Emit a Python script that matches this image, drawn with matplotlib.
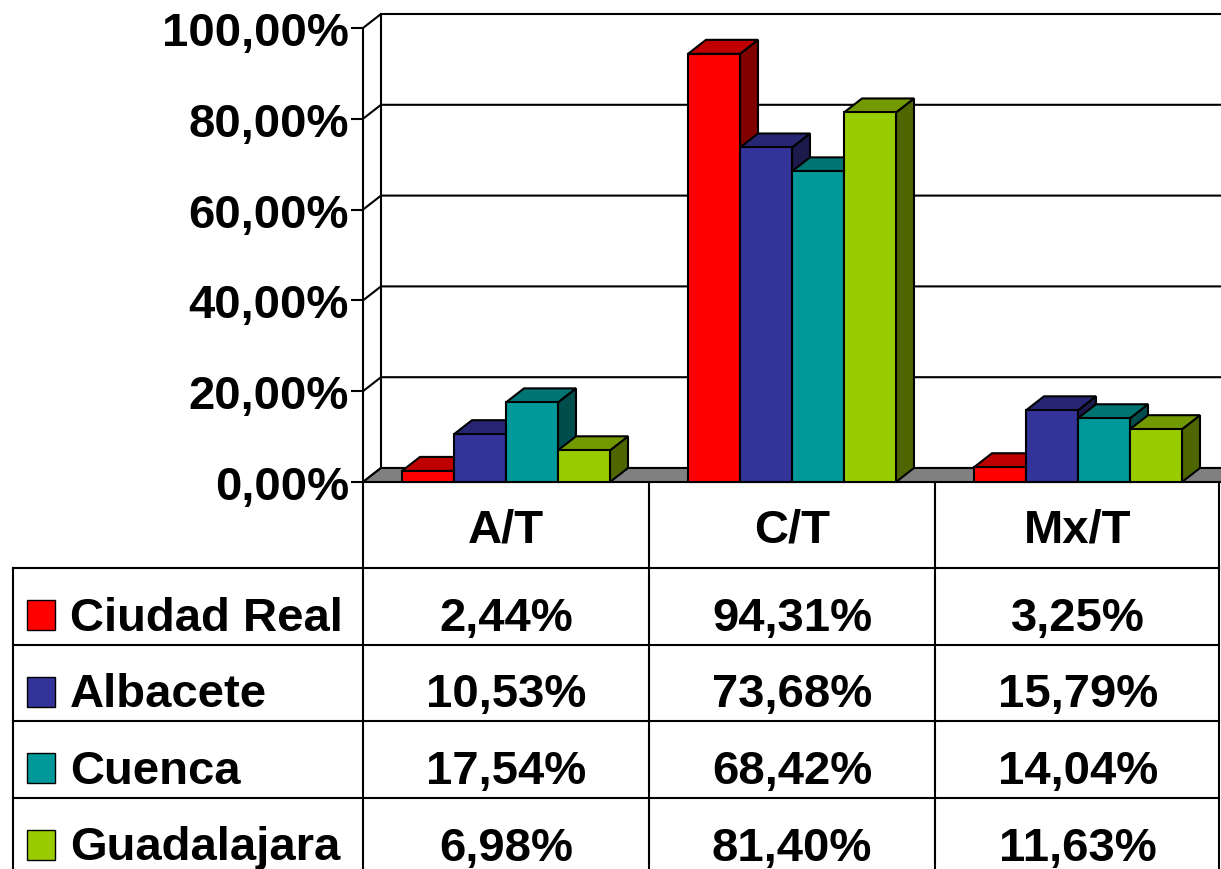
import matplotlib
matplotlib.use("Agg")
import matplotlib.pyplot as plt
from matplotlib.patches import Polygon, Rectangle

# ---------------- data ----------------
categories = ["A/T", "C/T", "Mx/T"]
series = ["Ciudad Real", "Albacete", "Cuenca", "Guadalajara"]
ciudad_real = [2.44, 94.31, 3.25]
albacete = [10.53, 73.68, 15.79]
cuenca = [17.54, 68.42, 14.04]
guadalajara = [6.98, 81.40, 11.63]
values = [ciudad_real, albacete, cuenca, guadalajara]
yticks = [0, 20, 40, 60, 80, 100]

front_colors = ["#FF0000", "#333399", "#009999", "#99CC00"]
top_colors = ["#C00000", "#262673", "#007373", "#739900"]
side_colors = ["#800000", "#1A1A4D", "#004D4D", "#4D6600"]


def pct(v):
    return f"{v:.2f}".replace(".", ",") + "%"


# ---------------- figure ----------------
plt.rcParams['font.family'] = ['Liberation Sans', 'DejaVu Sans']
W, H = 1221, 870
fig = plt.figure(figsize=(W / 100, H / 100), dpi=100)
FS = 34
LW = 1.5

# plot area (front plane)
AX_L, AX_R, AX_T, AX_B = 363, 1221, 29, 483
ax = fig.add_axes([AX_L / W, (H - AX_B) / H, (AX_R - AX_L) / W, (AX_B - AX_T) / H])
ncat = len(categories)
ax.set_xlim(0, ncat)
ax.set_ylim(0, 100)
for s in ['top', 'right', 'bottom']:
    ax.spines[s].set_visible(False)
ax.spines['left'].set_linewidth(LW)
ax.set_xticks([])
ax.set_yticks(yticks)
ax.set_yticklabels([pct(v) for v in yticks], fontsize=FS, fontweight='bold')
ax.tick_params(axis='y', length=9, width=LW, pad=1)
ax.patch.set_visible(False)

# depth offset (18 px right, 14 px up) expressed in data units
dx = 18 / (AX_R - AX_L) * ncat
dy = 14 / (AX_B - AX_T) * 100

# walls: gridlines on side wall and back wall
for v in yticks:
    ax.plot([0, dx, ncat + dx], [v, v + dy, v + dy], color='black', lw=LW,
            clip_on=False, zorder=1, solid_joinstyle='miter')
ax.plot([dx, dx], [dy, 100 + dy], color='black', lw=LW, clip_on=False, zorder=1)

# floor
floor = Polygon([(0, 0), (ncat, 0), (ncat + dx, dy), (dx, dy)], closed=True,
                facecolor='#808080', edgecolor='black', lw=LW, clip_on=False, zorder=2)
ax.add_patch(floor)

# bars
nser = len(series)
gap = 1.5
unit = 1.0 / (nser + gap)
z = 3
for c in range(ncat):
    for i in range(nser):
        h = values[i][c]
        x0 = c + (gap / 2 + i) * unit
        w = unit
        side = Polygon([(x0 + w, 0), (x0 + w + dx, dy), (x0 + w + dx, h + dy), (x0 + w, h)],
                       closed=True, facecolor=side_colors[i], edgecolor='black', lw=LW,
                       clip_on=False, zorder=z, joinstyle='miter')
        top = Polygon([(x0, h), (x0 + w, h), (x0 + w + dx, h + dy), (x0 + dx, h + dy)],
                      closed=True, facecolor=top_colors[i], edgecolor='black', lw=LW,
                      clip_on=False, zorder=z, joinstyle='miter')
        front = Rectangle((x0, 0), w, h, facecolor=front_colors[i], edgecolor='black',
                          lw=LW, clip_on=False, zorder=z + 0.5, joinstyle='miter')
        ax.add_patch(side)
        ax.add_patch(top)
        ax.add_patch(front)
        z += 1

# ---------------- data table ----------------
TAB_L = 13
ROW_H = 76.5
HEAD_H = 86
cat_px = (AX_R - AX_L) / ncat
tab = fig.add_axes([TAB_L / W, 0, (W - TAB_L) / W, (H - AX_B) / H])
tab.set_xlim((TAB_L - AX_L) / cat_px, ncat)
tab_h_units = (H - AX_B) / ROW_H
tab.set_ylim(tab_h_units, 0)
tab.axis('off')


def tx(px):
    return (px - AX_L) / cat_px


def ty(px):
    return px / ROW_H


head = ty(HEAD_H)
bottom_u = head + nser + 1
left_u = tx(TAB_L)
right_u = ncat - tx(AX_L + 2) + tx(AX_L)
line_kw = dict(color='black', lw=LW, clip_on=False, solid_capstyle='projecting')

# horizontal lines
for k in range(nser + 1):
    tab.plot([left_u, right_u], [head + k, head + k], **line_kw)
# vertical lines
tab.plot([left_u, left_u], [head, bottom_u], **line_kw)
for c in range(ncat):
    tab.plot([c, c], [0, bottom_u], **line_kw)
tab.plot([right_u, right_u], [0, bottom_u], **line_kw)

cap_half = 0.716 * FS * 100 / 72 / 2  # half cap height in px

# header labels
for c, cat in enumerate(categories):
    tab.text(c + 0.5, ty(HEAD_H / 2 + cap_half), cat, ha='center', va='baseline',
             fontsize=FS, fontweight='bold')

BASE_OFF = 62  # baseline offset from row top (px)
for i, name in enumerate(series):
    row_top_px = HEAD_H + i * ROW_H
    base = ty(row_top_px + BASE_OFF)
    # legend key
    key = Rectangle((tx(27), ty(row_top_px + BASE_OFF - 30)), tx(55) - tx(27), ty(30),
                    facecolor=front_colors[i], edgecolor='black', lw=1.0, clip_on=False)
    tab.add_patch(key)
    tab.text(tx(70), base, name, ha='left', va='baseline', fontsize=FS, fontweight='bold')
    for c in range(ncat):
        tab.text(c + 0.5, base, pct(values[i][c]), ha='center', va='baseline',
                 fontsize=FS, fontweight='bold')

fig.savefig("out.png", dpi=100, facecolor='white')
